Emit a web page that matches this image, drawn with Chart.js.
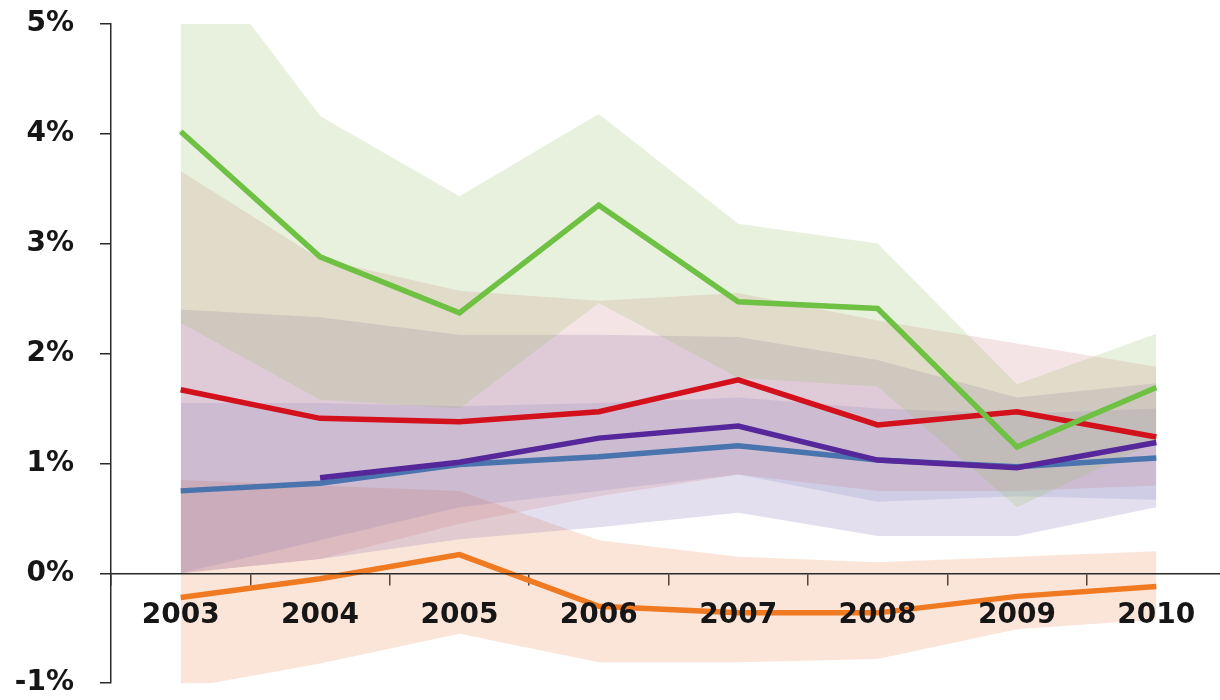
<!DOCTYPE html>
<html>
<head>
<meta charset="utf-8">
<script src="https://cdn.jsdelivr.net/npm/chart.js@4/dist/chart.umd.min.js"></script>
<style>
  html, body { margin: 0; padding: 0; background: #fff; overflow: hidden; }
  #wrap { position: relative; width: 1226px; height: 745px; margin-top: -19px; }
</style>
</head>
<body>
<div id="wrap"><canvas id="chart"></canvas></div>
<script>
// values, in percent
const years = ["2003", "2004", "2005", "2006", "2007", "2008", "2009", "2010"];
const yTicks = [-1, 0, 1, 2, 3, 4, 5];

const greenLine  = [4.02, 2.88, 2.37, 3.35, 2.47, 2.41, 1.15, 1.69];
const redLine    = [1.67, 1.41, 1.38, 1.47, 1.76, 1.35, 1.47, 1.24];
const purpleLine = [null, 0.87, 1.01, 1.23, 1.34, 1.03, 0.96, 1.19];
const blueLine   = [0.75, 0.82, 0.99, 1.06, 1.16, 1.03, 0.97, 1.05];
const orangeLine = [-0.22, -0.05, 0.17, -0.30, -0.36, -0.36, -0.21, -0.12];

const greenHi  = [5.84, 4.16, 3.43, 4.18, 3.18, 3.00, 1.72, 2.18];
const greenLo  = [2.28, 1.58, 1.50, 2.46, 1.78, 1.70, 0.60, 1.20];
const redHi    = [3.66, 2.86, 2.57, 2.48, 2.55, 2.30, 2.09, 1.88];
const redLo    = [0.00, 0.13, 0.45, 0.70, 0.90, 0.75, 0.75, 0.80];
const purpleHi = [2.40, 2.33, 2.17, 2.17, 2.15, 1.94, 1.60, 1.73];
const purpleLo = [0.00, 0.13, 0.31, 0.42, 0.55, 0.34, 0.34, 0.60];
const blueHi   = [1.55, 1.55, 1.52, 1.55, 1.60, 1.50, 1.45, 1.50];
const blueLo   = [0.00, 0.30, 0.60, 0.75, 0.90, 0.65, 0.70, 0.67];
const orangeHi = [0.85, 0.80, 0.75, 0.30, 0.15, 0.10, 0.15, 0.20];
const orangeLo = [-1.05, -0.82, -0.55, -0.81, -0.81, -0.78, -0.51, -0.42];

function line(data, color) {
    return {
        data: data,
        borderColor: color,
        borderWidth: 5.5,
        pointRadius: 0,
        fill: false,
        tension: 0,
        spanGaps: false
    };
}

function band(hi, lo, color) {
    return [
        { data: hi, borderWidth: 0, pointRadius: 0, fill: "+1", backgroundColor: color, tension: 0 },
        { data: lo, borderWidth: 0, pointRadius: 0, fill: false, tension: 0 }
    ];
}

// first dataset is drawn on top
const datasets = [
    line(greenLine, "#6fc144"),
    line(redLine, "#d2111d"),
    line(purpleLine, "#55279a"),
    line(blueLine, "#4a74ae"),
    line(orangeLine, "#f07a22"),
    ...band(greenHi, greenLo, "rgba(150,190,100,0.22)"),
    ...band(redHi, redLo, "rgba(200,110,120,0.19)"),
    ...band(purpleHi, purpleLo, "rgba(120,95,170,0.20)"),
    ...band(blueHi, blueLo, "rgba(100,130,190,0.18)"),
    ...band(orangeHi, orangeLo, "rgba(240,145,95,0.24)")
];

const axisColor = "#2a2a2a";
const tickFont = { family: "'DejaVu Sans', Verdana, sans-serif", size: 28, weight: "bold" };

new Chart(document.getElementById("chart").getContext("2d"), {
    type: "line",
    data: { labels: years, datasets: datasets },
    options: {
        responsive: true,
        maintainAspectRatio: false,
        animation: false,
        layout: { padding: { top: 4, bottom: 0, left: 0, right: 0 } },
        plugins: {
            legend: { display: false },
            tooltip: { enabled: false },
            filler: { drawTime: "beforeDatasetsDraw" }
        },
        scales: {
            x: {
                type: "category",
                position: { y: 0 },
                offset: true,
                grid: {
                    offset: true,
                    drawOnChartArea: false,
                    drawTicks: true,
                    tickLength: 11,
                    color: axisColor,
                    lineWidth: 1.5
                },
                // axis line and labels sit above the shaded bands
                border: { display: true, color: axisColor, width: 1.5, z: 1 },
                ticks: { color: "#161616", font: tickFont, padding: 15, maxRotation: 0, z: 2 }
            },
            y: {
                min: -1,
                max: 5,
                afterFit: scale => { scale.width = 111; },
                afterBuildTicks: scale => { scale.ticks = yTicks.map(v => ({ value: v })); },
                grid: {
                    drawOnChartArea: false,
                    drawTicks: true,
                    tickLength: 11,
                    color: axisColor,
                    lineWidth: 1.5
                },
                border: { display: true, color: axisColor, width: 1.5 },
                ticks: {
                    color: "#161616",
                    font: tickFont,
                    padding: 26,
                    callback: v => v + "%"
                }
            }
        }
    }
});
</script>
</body>
</html>
